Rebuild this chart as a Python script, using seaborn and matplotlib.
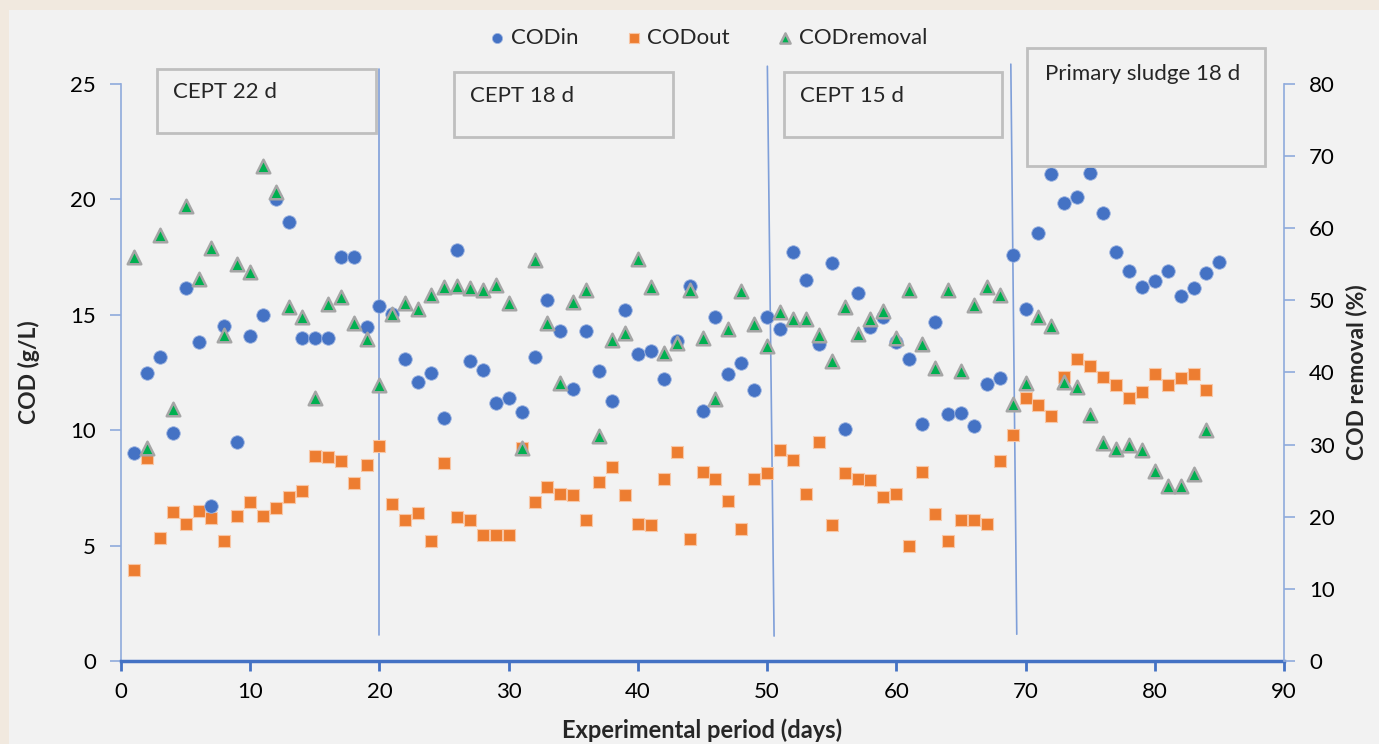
import matplotlib
matplotlib.use("Agg")
import matplotlib.pyplot as plt
from matplotlib.patches import Rectangle
import seaborn as sns
import pandas as pd
import numpy as np

# COD influent (g/L), days 1-85
cod_in = [9.0, 12.5, 13.15, 9.9, 16.15, 13.8, 6.7, 14.5, 9.5, 14.1,
          15.0, 20.0, 19.0, 14.0, 14.0, 14.0, 17.5, 17.5, 14.45, 15.4,
          15.05, 13.1, 12.1, 12.5, 10.55, 17.8, 13.0, 12.6, 11.2, 11.4,
          10.8, 13.15, 15.65, 14.3, 11.8, 14.3, 12.55, 11.25, 15.2, 13.3,
          13.45, 12.2, 13.85, 16.25, 10.85, 14.9, 12.45, 12.9, 11.75, 14.9,
          14.4, 17.7, 16.5, 13.75, 17.25, 10.05, 15.95, 14.45, 14.9, 13.8,
          13.1, 10.25, 14.7, 10.7, 10.75, 10.2, 12.0, 12.25, 17.6, 15.25,
          18.55, 21.1, 19.85, 20.1, 21.15, 19.4, 17.7, 16.9, 16.2, 16.45,
          16.9, 15.8, 16.15, 16.8, 17.3]

# COD effluent (g/L), days 1-84
cod_out = [3.95, 8.8, 5.35, 6.45, 5.95, 6.5, 6.2, 5.2, 6.3, 6.9,
           6.3, 6.65, 7.1, 7.35, 8.9, 8.85, 8.65, 7.7, 8.5, 9.3,
           6.8, 6.1, 6.4, 5.2, 8.6, 6.25, 6.1, 5.45, 5.45, 5.45,
           9.25, 6.9, 7.55, 7.25, 7.2, 6.1, 7.75, 8.4, 7.2, 5.95,
           5.9, 7.9, 9.05, 5.3, 8.2, 7.9, 6.95, 5.7, 7.9, 8.15,
           9.15, 8.7, 7.25, 9.5, 5.9, 8.15, 7.9, 7.85, 7.1, 7.25,
           5.0, 8.2, 6.35, 5.2, 6.1, 6.1, 5.95, 8.65, 9.8, 11.4,
           11.1, 10.6, 12.3, 13.1, 12.8, 12.3, 11.95, 11.4, 11.65, 12.45,
           11.95, 12.25, 12.45, 11.75]

# COD removal (%), days 1-84
cod_removal = [56.0, 29.6, 59.1, 35.0, 63.1, 52.9, 57.3, 45.2, 55.1, 53.9,
               68.7, 65.0, 49.1, 47.65, 36.4, 49.5, 50.5, 46.8, 44.7, 38.2,
               48.1, 49.6, 48.8, 50.7, 51.8, 52.0, 51.7, 51.4, 52.2, 49.6,
               29.6, 55.6, 46.8, 38.6, 49.8, 51.4, 31.2, 44.5, 45.5, 55.7,
               51.8, 42.7, 44.1, 51.4, 44.8, 36.3, 46.1, 51.3, 46.7, 43.7,
               48.4, 47.4, 47.4, 45.2, 41.6, 49.1, 45.3, 47.4, 48.5, 44.8,
               51.4, 44.0, 40.6, 51.5, 40.2, 49.3, 51.8, 50.7, 35.6, 38.5,
               47.7, 46.5, 38.7, 38.0, 34.1, 30.2, 29.4, 29.9, 29.3, 26.3,
               24.3, 24.2, 25.9, 32.0]

phase_labels = ["CEPT 22 d", "CEPT 18 d", "CEPT 15 d", "Primary sludge 18 d"]

df_in = pd.DataFrame({"day": np.arange(1, len(cod_in) + 1), "cod": cod_in})
df_out = pd.DataFrame({"day": np.arange(1, len(cod_out) + 1), "cod": cod_out})
df_rem = pd.DataFrame({"day": np.arange(1, len(cod_removal) + 1), "rem": cod_removal})

sns.set_style("white")
plt.rcParams["font.family"] = ["Lato", "DejaVu Sans"]

BLUE = "#4472C4"
ORANGE = "#ED7D31"
GREEN = "#00B050"
GREY = "#A5A5A5"
LINEBLUE = "#8FAADC"

fig = plt.figure(figsize=(13.79, 7.44), dpi=100, facecolor="#F1E9DF")
fig.patches.append(Rectangle((9 / 1379, 0), 1, 1 - 10 / 744, transform=fig.transFigure,
                             facecolor="#F2F2F2", edgecolor="none", zorder=-10))
ax = fig.add_axes([121 / 1379, 1 - 661 / 744, (1284 - 121) / 1379, (661 - 84) / 744])
ax.set_facecolor("none")
ax2 = ax.twinx()
ax2.set_facecolor("none")

sns.scatterplot(data=df_out, x="day", y="cod", ax=ax, marker="s", s=85, color=ORANGE,
                edgecolor="#F7C6A6", linewidth=0.8, label="CODout", legend=False, zorder=3)
sns.scatterplot(data=df_in, x="day", y="cod", ax=ax, marker="o", s=95, color=BLUE,
                edgecolor="#9DB4E0", linewidth=0.6, label="CODin", legend=False, zorder=4)
sns.scatterplot(data=df_rem, x="day", y="rem", ax=ax2, marker="^", s=95, color=GREEN,
                edgecolor=GREY, linewidth=1.8, label="CODremoval", legend=False, zorder=5)

ax.set_xlim(0, 90)
ax.set_ylim(0, 25)
ax2.set_ylim(0, 80)
ax.set_xticks(range(0, 91, 10))
ax.set_yticks(range(0, 26, 5))
ax2.set_yticks(range(0, 81, 10))

for a in (ax, ax2):
    for s in a.spines.values():
        s.set_visible(False)
ax.spines["left"].set_visible(True)
ax.spines["left"].set_color(LINEBLUE)
ax.spines["left"].set_linewidth(1.2)
ax2.spines["right"].set_visible(True)
ax2.spines["right"].set_color(LINEBLUE)
ax2.spines["right"].set_linewidth(1.2)
ax.spines["bottom"].set_visible(True)
ax.spines["bottom"].set_color(BLUE)
ax.spines["bottom"].set_linewidth(2.5)

ax.tick_params(axis="y", left=True, length=8, width=1.2, color=LINEBLUE,
               labelsize=16, pad=10, labelcolor="black")
ax2.tick_params(axis="y", right=True, length=8, width=1.2, color=LINEBLUE,
                labelsize=16, pad=10, labelcolor="black")
ax.tick_params(axis="x", bottom=True, length=7, width=2, color=BLUE,
               labelsize=16, pad=8, labelcolor="black")

ax.set_xlabel("Experimental period (days)", fontsize=17, fontweight="bold", labelpad=12)
ax.set_ylabel("COD (g/L)", fontsize=16.5, fontweight="bold", labelpad=22)
ax2.set_ylabel("COD removal (%)", fontsize=16.5, fontweight="bold", labelpad=8)

# phase boundaries (slightly slanted, drawn as in the source)
bounds = [((20.0, 25.65), (20.0, 1.13)),
          ((50.02, 25.77), (50.54, 1.08)),
          ((68.86, 25.86), (69.32, 1.16))]
for (x0, y0), (x1, y1) in bounds:
    ax.plot([x0, x1], [y0, y1], color="#7F9FD9", lw=1.2, clip_on=False, zorder=2)

# phase label boxes
boxes = [(2.79, 22.88, 19.73, 25.65, 4.02, 24.65),
         (25.77, 22.72, 42.72, 25.51, 27.0, 24.46),
         (51.31, 22.72, 68.18, 25.51, 52.55, 24.46),
         (70.11, 21.46, 88.53, 26.55, 71.5, 25.45)]
for (x0, y0, x1, y1, tx, ty), lab in zip(boxes, phase_labels):
    ax.add_patch(Rectangle((x0, y0), x1 - x0, y1 - y0, facecolor="#F2F2F2",
                           edgecolor="#BFBFBF", lw=2, clip_on=False, zorder=6))
    ax.text(tx, ty, lab, fontsize=16, va="center", ha="left", clip_on=False, zorder=7)

h1, l1 = ax.get_legend_handles_labels()
h2, l2 = ax2.get_legend_handles_labels()
order = {"CODin": 0, "CODout": 1, "CODremoval": 2}
hl = sorted(zip(h1 + h2, l1 + l2), key=lambda t: order[t[1]])
fig.legend([h for h, _ in hl], [l for _, l in hl], loc="center", bbox_to_anchor=(0.514, 0.949),
           ncol=3, frameon=False, fontsize=16, handlelength=0.6, handletextpad=0.3,
           columnspacing=2.2, markerscale=0.75)

fig.savefig("out.png", dpi=100, facecolor=fig.get_facecolor())
